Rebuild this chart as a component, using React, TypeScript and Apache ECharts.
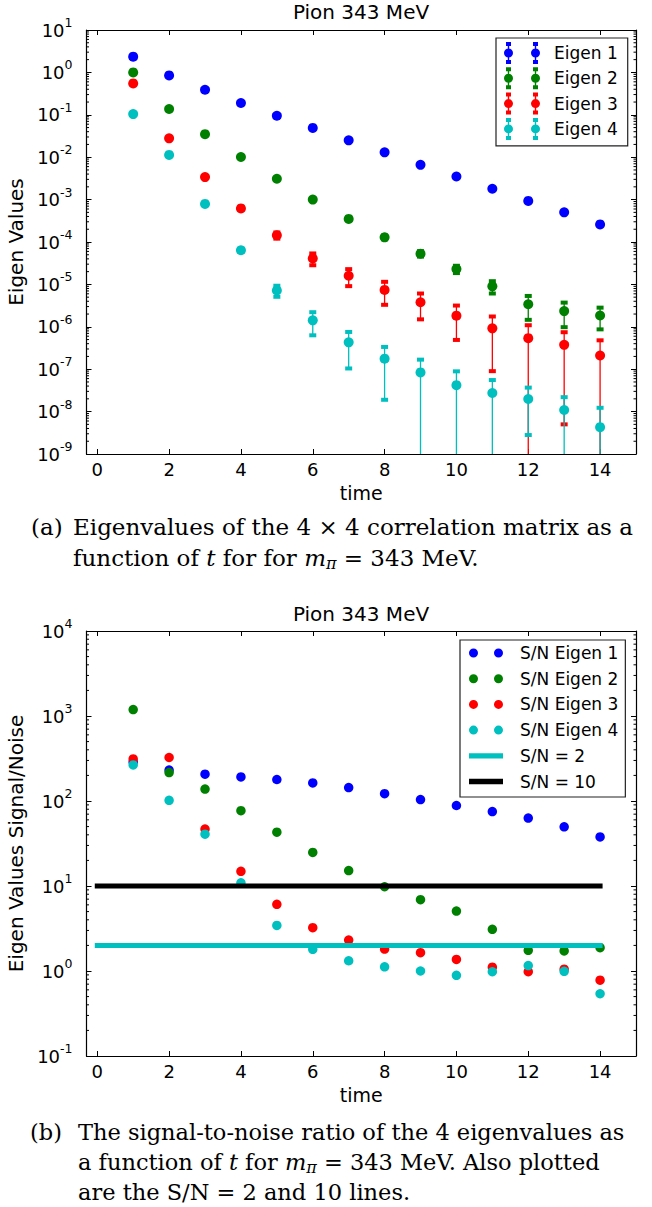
import React, { useEffect, useRef } from 'react';
import * as echarts from 'echarts';

// ---------------- data ----------------
const times = [1, 2, 3, 4, 5, 6, 7, 8, 9, 10, 11, 12, 13, 14];
const xTicks = [0, 2, 4, 6, 8, 10, 12, 14];

const eig1 = [2.35, 0.85, 0.39, 0.19, 0.095, 0.049, 0.025, 0.013, 0.0066, 0.0035, 0.0018, 0.00093, 0.0005, 0.00026];
const eig1Err = [8.2e-3, 3.7e-3, 1.9e-3, 9.9e-4, 5.3e-4, 3.0e-4, 1.7e-4, 1.07e-4, 6.3e-5, 4.0e-5, 2.4e-5, 1.5e-5, 1.0e-5, 6.9e-6];
const eig2 = [1.0, 0.137, 0.035, 0.0101, 0.0031, 0.001, 3.5e-4, 1.29e-4, 5.3e-5, 2.3e-5, 9e-6, 3.4e-6, 2.35e-6, 1.85e-6];
const eig2Err = [8.4e-4, 6.3e-4, 2.5e-4, 1.3e-4, 7.2e-5, 4.0e-5, 2.3e-5, 1.32e-5, 7.7e-6, 4.5e-6, 2.9e-6, 1.94e-6, 1.37e-6, 9.8e-7];
const eig3 = [0.55, 0.0279, 0.0034, 6.2e-4, 1.44e-4, 4.1e-5, 1.6e-5, 7.4e-6, 3.8e-6, 1.83e-6, 9.2e-7, 5.4e-7, 3.75e-7, 2.1e-7];
const eig3Err = [1.76e-3, 8.6e-5, 7.3e-5, 4.2e-5, 2.4e-5, 1.27e-5, 6.9e-6, 4.1e-6, 2.3e-6, 1.34e-6, 8.3e-7, 5.5e-7, 3.7e-7, 2.7e-7];
const eig4 = [0.104, 0.0113, 7.9e-4, 6.4e-5, 7.2e-6, 1.42e-6, 4.3e-7, 1.77e-7, 8.4e-8, 4.2e-8, 2.75e-8, 1.98e-8, 1.09e-8, 4.3e-9];
const eig4Err = [3.9e-4, 1.1e-4, 1.94e-5, 5.9e-6, 2.1e-6, 7.9e-7, 3.26e-7, 1.58e-7, 8.4e-8, 4.7e-8, 2.8e-8, 1.7e-8, 1.1e-8, 8e-9];

const sn1 = [288, 231, 207, 192, 179, 163, 144, 122, 104, 88.5, 75, 63, 49.7, 37.8];
const sn2 = [1190, 216, 138, 77, 43, 24.8, 15.2, 9.8, 6.9, 5.07, 3.09, 1.75, 1.72, 1.88];
const sn3 = [313, 325, 46.7, 14.9, 6.08, 3.23, 2.31, 1.81, 1.64, 1.37, 1.11, 0.98, 1.05, 0.78];
const sn4 = [266, 102, 40.7, 10.9, 3.44, 1.8, 1.32, 1.12, 1.0, 0.89, 0.98, 1.16, 0.99, 0.54];

const lineX = [0, 14];
const snTwo = [2, 2];
const snTen = [10, 10];

const eigNames = ['Eigen 1', 'Eigen 2', 'Eigen 3', 'Eigen 4'];
const snNames = ['S/N Eigen 1', 'S/N Eigen 2', 'S/N Eigen 3', 'S/N Eigen 4', 'S/N = 2', 'S/N = 10'];
const title = 'Pion 343 MeV';

// ---------------- style ----------------
const SANS = 'DejaVu Sans';
const SERIF = 'DejaVu Serif';
const COLORS = ['#0000ff', '#008000', '#ff0000', '#00bfbf'];
const BLACK = '#000000';

function glyph(cx: number) {
  return (
    `M${cx - 2.5} 0 L${cx + 2.5} 0 L${cx + 2.5} 4 L${cx - 2.5} 4 Z ` +
    `M${cx - 0.7} 3 L${cx + 0.7} 3 L${cx + 0.7} 19 L${cx - 0.7} 19 Z ` +
    `M${cx - 2.5} 18 L${cx + 2.5} 18 L${cx + 2.5} 22 L${cx - 2.5} 22 Z ` +
    `M${cx - 4.5} 11 A4.5 4.5 0 1 1 ${cx + 4.5} 11 A4.5 4.5 0 1 1 ${cx - 4.5} 11 Z `
  );
}
const ICON_ERR = 'path://' + glyph(4.5) + glyph(31.5);
const ICON_DOTS =
  'path://M0 4.5 A4.5 4.5 0 1 1 9 4.5 A4.5 4.5 0 1 1 0 4.5 Z M25 4.5 A4.5 4.5 0 1 1 34 4.5 A4.5 4.5 0 1 1 25 4.5 Z';
const ICON_LINE = 'path://M0 0 L32 0 L32 5 L0 5 Z';

function logLabel(v: number) {
  const e = Math.round(Math.log10(v));
  return `{b|10}{e|${e}}`;
}

function xAxis(grid: number, pos: 'top' | 'bottom', labels: boolean) {
  return {
    type: 'value',
    gridIndex: grid,
    position: pos,
    min: -0.3,
    max: 15,
    axisLine: { show: true, onZero: false, lineStyle: { color: BLACK, width: 1.2 } },
    axisTick: { show: true, inside: true, length: 5, customValues: xTicks, lineStyle: { color: BLACK, width: 1 } },
    axisLabel: {
      show: labels,
      customValues: xTicks,
      margin: 6,
      fontSize: 18,
      fontFamily: SANS,
      color: BLACK,
    },
    splitLine: { show: false },
    name: labels ? 'time' : '',
    nameLocation: 'middle',
    nameGap: 29,
    nameTextStyle: { fontSize: 19, fontFamily: SANS, color: BLACK },
  };
}

function yAxis(grid: number, pos: 'left' | 'right', min: number, max: number, split: number, name: string) {
  const labels = pos === 'left';
  return {
    type: 'log',
    logBase: 10,
    gridIndex: grid,
    position: pos,
    min,
    max,
    splitNumber: split,
    axisLine: { show: true, onZero: false, lineStyle: { color: BLACK, width: 1.2 } },
    axisTick: { show: true, inside: true, length: 5, lineStyle: { color: BLACK, width: 1 } },
    axisLabel: {
      show: labels,
      margin: 14,
      color: BLACK,
      formatter: logLabel,
      rich: {
        b: { fontSize: 18, fontFamily: SANS, color: BLACK, lineHeight: 28 },
        e: { fontSize: 12.5, fontFamily: SANS, color: BLACK, lineHeight: 12, verticalAlign: 'top' },
      },
    },
    splitLine: { show: false },
    minorTick: { show: false },
    name: labels ? name : '',
    nameLocation: 'middle',
    nameGap: 44,
    nameTextStyle: { fontSize: 20, fontFamily: SANS, color: BLACK },
  };
}

function minorValues(kMin: number, kMax: number) {
  const out: number[][] = [];
  for (let k = kMin; k < kMax; k++) {
    for (let m = 2; m <= 9; m++) out.push([0, m * Math.pow(10, k)]);
  }
  return out;
}

function minorTicks(xIdx: number, yIdx: number, kMin: number, kMax: number) {
  return {
    type: 'custom',
    xAxisIndex: xIdx,
    yAxisIndex: yIdx,
    silent: true,
    clip: false,
    z: 6,
    data: minorValues(kMin, kMax),
    renderItem: (params: any, api: any) => {
      const cs = params.coordSys;
      const y = api.coord([0, api.value(1)])[1];
      return {
        type: 'group',
        children: [
          { type: 'line', shape: { x1: cs.x, y1: y, x2: cs.x + 2.5, y2: y }, style: { stroke: BLACK, lineWidth: 1 } },
          {
            type: 'line',
            shape: { x1: cs.x + cs.width, y1: y, x2: cs.x + cs.width - 2.5, y2: y },
            style: { stroke: BLACK, lineWidth: 1 },
          },
        ],
      };
    },
  };
}

function errorBars(vals: number[], errs: number[], color: string) {
  return {
    type: 'custom',
    xAxisIndex: 0,
    yAxisIndex: 0,
    silent: true,
    clip: true,
    z: 2,
    data: times.map((t, i) => [t, vals[i], errs[i]]),
    renderItem: (params: any, api: any) => {
      const t = api.value(0) as number;
      const v = api.value(1) as number;
      const e = api.value(2) as number;
      const cs = params.coordSys;
      const top = api.coord([t, v + e]);
      const hasLow = v - e > 0;
      const low = hasLow ? api.coord([t, v - e]) : [top[0], cs.y + cs.height + 20];
      const children: any[] = [
        { type: 'line', shape: { x1: top[0], y1: top[1], x2: low[0], y2: low[1] }, style: { stroke: color, lineWidth: 1.3 } },
        { type: 'rect', shape: { x: top[0] - 3.5, y: top[1] - 2, width: 7, height: 4 }, style: { fill: color } },
      ];
      if (hasLow) {
        children.push({ type: 'rect', shape: { x: low[0] - 3.5, y: low[1] - 2, width: 7, height: 4 }, style: { fill: color } });
      }
      return { type: 'group', children };
    },
  };
}

function scatter(name: string, vals: number[], color: string, xIdx: number, yIdx: number, size: number) {
  return {
    type: 'scatter',
    name,
    xAxisIndex: xIdx,
    yAxisIndex: yIdx,
    silent: true,
    z: 3,
    symbol: 'circle',
    symbolSize: size,
    itemStyle: { color, opacity: 1 },
    data: times.map((t, i) => [t, vals[i]]),
  };
}

function hline(name: string, vals: number[], color: string) {
  return {
    type: 'line',
    name,
    xAxisIndex: 2,
    yAxisIndex: 2,
    silent: true,
    z: 4,
    symbol: 'none',
    lineStyle: { color, width: 5, cap: 'square' },
    itemStyle: { color },
    data: lineX.map((x, i) => [x, vals[i]]),
  };
}

function captionText(x: number, y: number, text: string, size: number) {
  return {
    type: 'text',
    x,
    y,
    style: {
      text,
      fill: BLACK,
      fontSize: size,
      fontFamily: SERIF,
      verticalAlign: 'middle',
      rich: {
        r: { fontSize: size, fontFamily: SERIF, fill: BLACK, lineHeight: 26 },
        i: { fontSize: size, fontFamily: SERIF, fontStyle: 'italic', fill: BLACK, lineHeight: 26 },
        s: { fontSize: 16, fontFamily: SERIF, fontStyle: 'italic', fill: BLACK, lineHeight: 16, verticalAlign: 'bottom' },
      },
    },
  };
}

function buildOption() {
  const eig = [eig1, eig2, eig3, eig4];
  const eigErr = [eig1Err, eig2Err, eig3Err, eig4Err];
  const sn = [sn1, sn2, sn3, sn4];

  const series: any[] = [
    minorTicks(0, 0, -9, 1),
    minorTicks(2, 2, -1, 4),
  ];
  eig.forEach((vals, i) => series.push(errorBars(vals, eigErr[i], COLORS[i])));
  eig.forEach((vals, i) => series.push(scatter(eigNames[i], vals, COLORS[i], 0, 0, 10)));
  sn.forEach((vals, i) => series.push(scatter(snNames[i], vals, COLORS[i], 2, 2, 9.5)));
  series.push(hline(snNames[4], snTwo, COLORS[3]));
  series.push(hline(snNames[5], snTen, BLACK));

  return {
    animation: false,
    backgroundColor: '#ffffff',
    grid: [
      { left: 86.5, top: 30, width: 549.5, height: 424, outerBoundsMode: 'none', containLabel: false },
      { left: 86.5, top: 631, width: 549.5, height: 425, outerBoundsMode: 'none', containLabel: false },
    ],
    xAxis: [xAxis(0, 'bottom', true), xAxis(0, 'top', false), xAxis(1, 'bottom', true), xAxis(1, 'top', false)],
    yAxis: [
      yAxis(0, 'left', 1e-9, 10, 10, 'Eigen Values'),
      yAxis(0, 'right', 1e-9, 10, 10, ''),
      yAxis(1, 'left', 0.1, 1e4, 5, 'Eigen Values Signal/Noise'),
      yAxis(1, 'right', 0.1, 1e4, 5, ''),
    ],
    legend: [
      {
        orient: 'vertical',
        left: 496,
        top: 38,
        padding: [4, 10, 6, 8],
        itemGap: 3.3,
        itemWidth: 36,
        itemHeight: 22,
        backgroundColor: '#ffffff',
        borderColor: '#222222',
        borderWidth: 1.2,
        borderRadius: 0,
        selectedMode: false,
        z: 10,
        textStyle: { fontSize: 17, fontFamily: SANS, color: BLACK, padding: [0, 0, 0, 9] },
        data: eigNames.map((n) => ({ name: n, icon: ICON_ERR })),
      },
      {
        orient: 'vertical',
        left: 460,
        top: 640,
        padding: [4.5, 7, 7, 9],
        itemGap: 8.7,
        itemWidth: 34,
        itemHeight: 9,
        backgroundColor: '#ffffff',
        borderColor: '#222222',
        borderWidth: 1.2,
        borderRadius: 0,
        selectedMode: false,
        z: 10,
        textStyle: { fontSize: 17, fontFamily: SANS, color: BLACK, padding: [0, 0, 0, 12] },
        data: snNames.map((n, i) => ({ name: n, icon: i < 4 ? ICON_DOTS : ICON_LINE })),
      },
    ],
    graphic: {
      elements: [
        { type: 'text', x: 361, y: 12, style: { text: title, fill: BLACK, fontSize: 20, fontFamily: SANS, align: 'center', verticalAlign: 'middle' } },
        { type: 'text', x: 361, y: 614, style: { text: title, fill: BLACK, fontSize: 20, fontFamily: SANS, align: 'center', verticalAlign: 'middle' } },
        captionText(31, 527, '(a)', 23),
        captionText(73, 527, 'Eigenvalues of the 4 × 4 correlation matrix as a', 23),
        captionText(73, 558, '{r|function of }{i|t}{r| for for }{i|m}{s|π}{r| = 343 MeV.}', 23),
        captionText(30, 1132, '(b)', 22.5),
        captionText(78, 1132, 'The signal-to-noise ratio of the 4 eigenvalues as', 22.5),
        captionText(78, 1162, '{r|a function of }{i|t}{r| for }{i|m}{s|π}{r| = 343 MeV. Also plotted}', 22.5),
        captionText(78, 1192, 'are the S/N = 2 and 10 lines.', 22.5),
      ],
    },
    series,
  };
}

export default function App() {
  const ref = useRef<HTMLDivElement>(null);
  useEffect(() => {
    document.body.style.margin = '0';
    const chart = echarts.init(ref.current as HTMLDivElement, null, { renderer: 'svg', width: 652, height: 1207 });
    chart.setOption(buildOption() as any);
    return () => chart.dispose();
  }, []);
  return <div ref={ref} style={{ width: 652, height: 1207, position: 'absolute', left: 0, top: 0 }} />;
}
